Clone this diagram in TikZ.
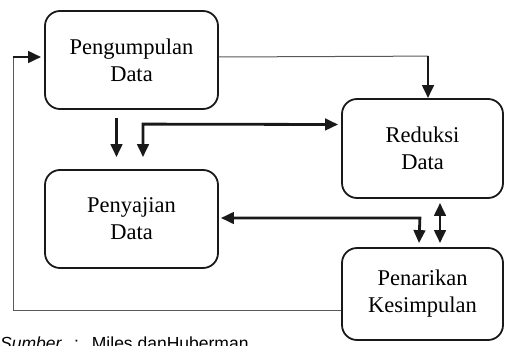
\documentclass[tikz,border=0pt]{standalone}
\usepackage{fontspec}
\setmainfont{Liberation Serif}
\newfontfamily\capfont{Liberation Sans}
\usetikzlibrary{arrows.meta,calc}
\begin{document}
\begin{tikzpicture}[x=1pt,y=-1pt,
  box/.style={draw=black!90,line width=1.8pt,rounded corners=15pt,align=center,
    font=\fontsize{22.5}{27}\selectfont,inner sep=0pt},
  thickarr/.style={line width=2.8pt,-{Triangle[length=13pt,width=11.5pt]},black!90},
  dblarr/.style={line width=2.8pt,{Triangle[length=13pt,width=11.5pt]}-{Triangle[length=13pt,width=11.5pt]},black!90},
  thinline/.style={line width=1pt,black!65}]
\useasboundingbox (0,0) rectangle (505,345);
\node[box,minimum width=173pt,minimum height=98pt] (peng) at (131.5,60) {Pengumpulan\\Data};
\node[box,minimum width=173pt,minimum height=98pt] (peny) at (131.5,219) {Penyajian\\Data};
\node[box,minimum width=161pt,minimum height=99pt] (red) at (422.5,148.5) {Reduksi\\Data};
\node[box,minimum width=161pt,minimum height=92pt] (pen) at (422.5,294) {Penarikan\\Kesimpulan};
% Pengumpulan -> Reduksi
\coordinate (c1) at ($(red.north)+(5.5,-42)$);
\draw[thinline] ($(peng.east)+(0,-3)$) -- (c1);
\draw[thickarr] ($(c1)+(0,-0.5)$) -- ($(red.north)+(5.5,0)$);
% Pengumpulan -> Penyajian
\draw[thickarr] ($(peng.south)+(-15,8)$) -- ($(peny.north)+(-15,-12)$);
% Reduksi <-> Penyajian
\coordinate (c2) at ($(peny.north)+(11.5,-45)$);
\draw[dblarr] ($(red.west)+(-3,-24)$) -- (c2) -- ($(peny.north)+(11.5,-12)$);
% Penyajian <-> Penarikan
\coordinate (c3) at ($(peny.east)+(201,-1)$);
\draw[dblarr] ($(peny.east)+(2,-1)$) -- (c3) -- ($(pen.north)+(-3.5,-4)$);
% Reduksi <-> Penarikan
\draw[dblarr] ($(red.south)+(17.5,4)$) -- ($(pen.north)+(17.5,-4)$);
% Penarikan -> Pengumpulan
\coordinate (c4) at ($(pen.west)+(-328,16)$);
\coordinate (c5) at ($(peng.west)+(-31,-3)$);
\draw[thinline] ($(pen.west)+(0,16)$) -- (c4) -- (c5);
\draw[thickarr] ($(c5)+(-0.5,0)$) -- ($(peng.west)+(-3,-3)$);
\node[anchor=base west,inner sep=0pt,font=\capfont\fontsize{17.5}{20}\selectfont] (cap) at (0,349)
  {\textit{Sumber}\hspace{12pt}:\hspace{13pt}Miles danHuberman};
\end{tikzpicture}
\end{document}
